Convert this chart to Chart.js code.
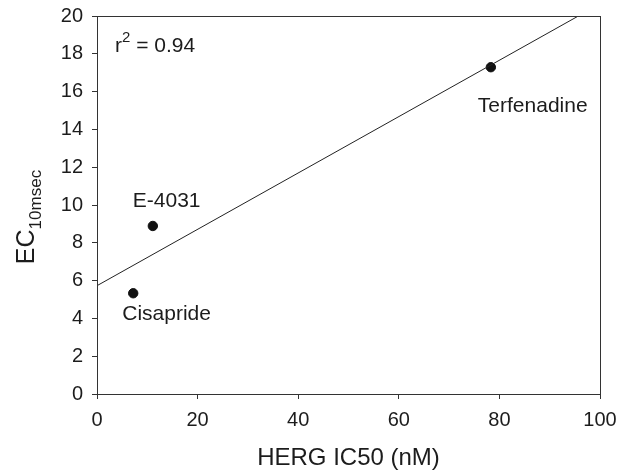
<!DOCTYPE html>
<html>
<head>
<meta charset="utf-8">
<script src="https://cdn.jsdelivr.net/npm/chart.js@4/dist/chart.umd.min.js"></script>
<style>
  body { margin: 0; background: #fff; }
  #wrap { width: 629px; height: 470px; position: relative; }
</style>
</head>
<body>
<div id="wrap"><canvas id="ecChart"></canvas></div>
<script>
// data
const drugNames = ['Cisapride', 'E-4031', 'Terfenadine'];
const hergIC50 = [7.2, 11.1, 78.3];
const ec10msec = [5.33, 8.89, 17.29];
// regression line end points (as drawn)
const fitX = [0, 95.7];
const fitY = [5.73, 20];
const xTicks = [0, 20, 40, 60, 80, 100];
const yTicks = [0, 2, 4, 6, 8, 10, 12, 14, 16, 18, 20];
const rSquared = '0.94';

// label offsets from each point (px)
const labelOffsets = [[-11, 27], [-20, -19], [-13, 45]];

const FONT = 'Liberation Sans, Arial, sans-serif';
const INK = '#1c1c1c';

const pts = hergIC50.map((x, i) => ({ x: x, y: ec10msec[i] }));
const fitLine = fitX.map((x, i) => ({ x: x, y: fitY[i] }));

//   <------------ extra drawing ------------->
const extras = {
  id: 'extras',
  afterDraw(chart) {
    const c = chart.ctx;
    const a = chart.chartArea;
    const xs = chart.scales.x, ys = chart.scales.y;
    c.save();

    // frame top/right
    c.strokeStyle = '#333';
    c.lineWidth = 1;
    c.strokeRect(a.left + 0.5, a.top + 0.5, a.right - a.left, a.bottom - a.top);

    c.fillStyle = INK;
    c.textBaseline = 'alphabetic';
    c.textAlign = 'left';
    c.font = '21px ' + FONT;

    // point labels
    drugNames.forEach((name, i) => {
      const px = xs.getPixelForValue(hergIC50[i]);
      const py = ys.getPixelForValue(ec10msec[i]);
      c.fillText(name, px + labelOffsets[i][0], py + labelOffsets[i][1]);
    });

    // r^2
    let rx = a.left + 18, ry = a.top + 36;
    c.fillText('r', rx, ry);
    rx += c.measureText('r').width;
    c.font = '15px ' + FONT;
    c.fillText('2', rx, ry - 10);
    rx += c.measureText('2').width;
    c.font = '21px ' + FONT;
    c.fillText(' = ' + rSquared, rx, ry);

    // x title
    c.textAlign = 'center';
    c.font = '24px ' + FONT;
    c.fillText('HERG IC50 (nM)', (a.left + a.right) / 2, 465);

    // y title with subscript
    c.translate(34, (a.top + a.bottom) / 2 + 12);
    c.rotate(-Math.PI / 2);
    c.textAlign = 'left';
    c.font = '25px ' + FONT;
    const main = 'EC', sub = '10msec';
    const wMain = c.measureText(main).width;
    c.font = '17px ' + FONT;
    const wSub = c.measureText(sub).width;
    const start = -(wMain + wSub) / 2;
    c.font = '25px ' + FONT;
    c.fillText(main, start, 0);
    c.font = '17px ' + FONT;
    c.fillText(sub, start + wMain, 7);

    c.restore();
  }
};

const ctx = document.getElementById('ecChart').getContext('2d');

const config = {
  type: 'scatter',
  data: {
    datasets: [
      {
        label: 'fit',
        type: 'line',
        data: fitLine,
        borderColor: '#222',
        borderWidth: 1,
        pointRadius: 0,
        fill: false
      },
      {
        label: 'drugs',
        data: pts,
        backgroundColor: '#111',
        borderColor: '#111',
        pointRadius: 4.7,
        pointHoverRadius: 4.7
      }
    ]
  },
  options: {
    responsive: true,
    maintainAspectRatio: false,
    animation: false,
    events: [],
    layout: { padding: { top: 16, right: 29, left: 0, bottom: 0 } },
    plugins: {
      legend: { display: false },
      tooltip: { enabled: false }
    },
    scales: {
      x: {
        type: 'linear',
        min: 0,
        max: 100,
        afterBuildTicks: (s) => { s.ticks = xTicks.map(v => ({ value: v })); },
        afterFit: (s) => { s.height = 76; s.paddingLeft = 0; s.paddingRight = 0; },
        grid: { drawOnChartArea: false, drawTicks: true, tickLength: 5, color: '#333' },
        border: { display: true, color: '#333', width: 1 },
        ticks: { color: INK, font: { family: FONT, size: 20 }, padding: 9, maxRotation: 0 }
      },
      y: {
        type: 'linear',
        min: 0,
        max: 20,
        afterBuildTicks: (s) => { s.ticks = yTicks.map(v => ({ value: v })); },
        afterFit: (s) => { s.width = 97; s.paddingTop = 0; s.paddingBottom = 0; },
        grid: { drawOnChartArea: false, drawTicks: true, tickLength: 5, color: '#333' },
        border: { display: true, color: '#333', width: 1 },
        ticks: { color: INK, font: { family: FONT, size: 20 }, padding: 9 }
      }
    }
  },
  plugins: [extras]
};

var ecChart = new Chart(ctx, config);
</script>
</body>
</html>
